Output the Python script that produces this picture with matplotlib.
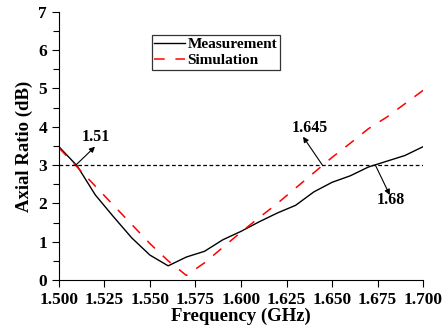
import matplotlib
matplotlib.use("Agg")
import matplotlib.pyplot as plt
from matplotlib.ticker import MultipleLocator, FormatStrFormatter

freq_meas = [1.50, 1.51, 1.52, 1.53, 1.54, 1.55, 1.56, 1.57, 1.58, 1.59, 1.60,
             1.61, 1.62, 1.63, 1.64, 1.65, 1.66, 1.67, 1.68, 1.69, 1.70]
ar_meas = [3.48, 2.98, 2.22, 1.65, 1.10, 0.65, 0.37, 0.60, 0.75, 1.05, 1.27,
           1.52, 1.75, 1.95, 2.30, 2.55, 2.72, 2.95, 3.10, 3.25, 3.48]

freq_sim = [1.50, 1.51, 1.52, 1.53, 1.54, 1.55, 1.56, 1.57, 1.58, 1.59, 1.60,
            1.61, 1.62, 1.63, 1.64, 1.65, 1.66, 1.67, 1.68, 1.69, 1.70]
ar_sim = [3.45, 2.95, 2.45, 1.95, 1.45, 0.95, 0.50, 0.12, 0.45, 0.85, 1.25,
          1.63, 2.00, 2.40, 2.80, 3.20, 3.57, 3.95, 4.25, 4.60, 4.95]

threshold = 3.0
ann_labels = ["1.51", "1.645", "1.68"]
ann_start = [(1.5093, 3.0), (1.6447, 3.0), (1.674, 2.98)]
ann_head = [(1.5198, 3.48), (1.6341, 3.74), (1.6817, 2.22)]
ann_text = [(1.5205, 3.74), (1.6376, 3.96), (1.6823, 2.08)]

plt.rcParams['font.family'] = ['Liberation Serif', 'DejaVu Serif']
plt.rcParams['font.weight'] = 'bold'

fig = plt.figure(figsize=(4.43, 3.27), dpi=100)
ax = fig.add_axes([0.133, 0.1437, 0.822, 0.820])

ax.plot(freq_meas, ar_meas, color='black', lw=1.0, label='Measurement')
ax.plot(freq_sim, ar_sim, color='red', lw=1.1, dashes=(7, 7), label='Simulation')
ax.axhline(threshold, color='black', lw=0.9, dashes=(3, 2))

for s, h in zip(ann_start, ann_head):
    ax.annotate('', xy=h, xytext=s,
                arrowprops=dict(arrowstyle='-|>', color='black', lw=0.8,
                                mutation_scale=8, shrinkA=0, shrinkB=0))
for txt, pos in zip(ann_labels, ann_text):
    ax.text(pos[0], pos[1], txt, ha='center', va='center', fontsize=11.5, fontweight='bold')

ax.set_xlim(1.5, 1.7)
ax.set_ylim(0, 7)
ax.xaxis.set_major_locator(MultipleLocator(0.025))
ax.xaxis.set_major_formatter(FormatStrFormatter('%.3f'))
ax.yaxis.set_major_locator(MultipleLocator(1))
ax.yaxis.set_minor_locator(MultipleLocator(0.5))
ax.tick_params(axis='both', which='major', direction='out', length=5, width=0.8, labelsize=12.5)
ax.tick_params(axis='y', which='minor', direction='out', length=4, width=0.8)
for lab in ax.get_xticklabels() + ax.get_yticklabels():
    lab.set_fontweight('bold')
ax.spines['top'].set_visible(False)
ax.spines['right'].set_visible(False)

ax.set_xlabel('Frequency (GHz)', fontsize=13.5, fontweight='bold', labelpad=0)
ax.set_ylabel('Axial Ratio (dB)', fontsize=13.5, fontweight='bold', labelpad=4)

leg = ax.legend(loc='upper left', bbox_to_anchor=(0.255, 0.912), fontsize=11,
                frameon=True, fancybox=False, edgecolor='black', handlelength=2.0,
                borderpad=0.15, labelspacing=0.15, handletextpad=0.2, borderaxespad=0)
leg.get_frame().set_linewidth(0.9)
for t in leg.get_texts():
    t.set_fontweight('bold')

fig.savefig('out.png', dpi=100)
